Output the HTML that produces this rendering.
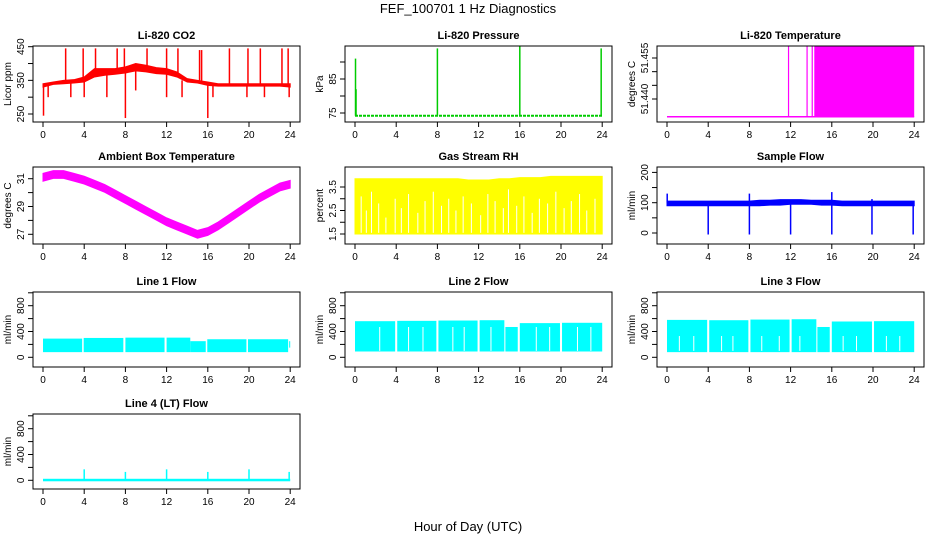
<!DOCTYPE html>
<html><head><meta charset="utf-8"><style>
body{margin:0;background:#fff;}
svg{display:block;font-family:"Liberation Sans",sans-serif;}
</style></head><body>
<svg id="c" width="936" height="540">
<text x="468" y="13" text-anchor="middle" font-size="13">FEF_100701  1 Hz Diagnostics</text>
<text x="468" y="531" text-anchor="middle" font-size="13">Hour of Day (UTC)</text>
</svg>
<script>
const hours=[0,1,2,3,4,5,6,7,8,9,10,11,12,13,14,15,16,17,18,19,20,21,22,23,24];
const co2Lo=[330,338,340,342,345,360,365,368,372,378,375,370,368,360,345,342,335,333,333,333,333,333,333,333,330];
const co2Hi=[340,345,350,352,360,385,385,385,390,400,395,388,385,375,355,350,345,340,340,340,340,340,340,340,340];
const co2SpikeH=[2.2,3.9,5.1,7.2,7.9,10.1,12.0,13.1,15.2,15.4,18.1,19.9,21.1,23.2,23.8,0.05,0.5,2.7,4.0,6.2,8.0,9.0,12.0,13.5,16.0,16.5,19.8,21.5,23.9];
const co2SpikeV=[445,445,445,445,445,445,445,445,440,440,445,445,445,445,445,245,300,300,300,300,238,320,300,300,238,300,300,300,300];
const presBase=[74.2,74.2,74.2,74.2,74.2,74.2,74.2,74.2,74.2,74.2,74.2,74.2,74.2,74.2,74.2,74.2,74.2,74.2,74.2,74.2,74.2,74.2,74.2,74.2,74.2];
const presSpikeH=[0.05,0.1,8.0,16.0,23.9];
const presSpikeV=[91,82,94,95,94];
const tempFlat=51.4335;
const tempHigh=51.4594;
const tempLineH=[11.8,13.6,14.1];
const tempBandStart=14.3;
const ambMid=[31.1,31.3,31.3,31.1,30.9,30.6,30.3,29.9,29.5,29.1,28.7,28.3,27.9,27.6,27.3,27.0,27.2,27.6,28.1,28.6,29.1,29.6,30.0,30.4,30.6];
const ambHalf=0.28;
const rhLo=[1.5,1.5,1.5,1.5,1.5,1.5,1.5,1.5,1.5,1.5,1.5,1.5,1.5,1.5,1.5,1.5,1.5,1.5,1.5,1.5,1.5,1.5,1.5,1.5,1.5];
const rhHi=[3.85,3.85,3.85,3.85,3.85,3.85,3.85,3.85,3.85,3.85,3.85,3.8,3.8,3.8,3.85,3.85,3.9,3.9,3.9,3.95,3.95,3.95,3.95,3.95,3.95];
const rhGapH=[0.6,1.1,1.6,2.3,3.0,3.9,4.5,5.2,6.1,6.8,7.6,8.4,9.1,9.8,10.5,11.3,12.2,12.9,13.6,14.4,14.9,15.7,16.4,17.2,17.9,18.7,19.5,20.3,21.0,21.8,22.5,23.3];
const rhGapV=[3.1,2.5,3.3,2.8,2.2,3.0,2.6,3.2,2.4,2.9,3.3,2.7,3.0,2.5,3.1,2.8,2.3,3.2,2.9,2.6,3.4,2.7,3.1,2.4,3.0,2.8,3.3,2.6,2.9,3.2,2.5,3.0];
const sfLo=[90,90,90,90,90,90,90,90,90,90,92,92,95,95,95,92,92,90,90,90,90,90,90,90,90];
const sfHi=[105,105,105,105,105,105,105,105,105,108,108,110,110,110,108,108,108,105,105,105,105,105,105,105,105];
const sfSpikeH=[0.02,8.0,16.0,19.9,4.0,8.0,12.0,16.0,19.9,23.9];
const sfSpikeV=[130,130,135,112,-5,-5,-5,-5,-5,-5];
const l1Start=[0,3.95,8.0,12.0,14.3,15.95,19.9,23.9];
const l1End=[3.8,7.8,11.8,14.3,15.8,19.75,23.8,24];
const l1Lo=[80,80,80,80,80,80,80,150];
const l1Hi=[290,300,305,305,250,280,280,250];
const l2Start=[0,4.1,8.1,12.1,14.6,16.0,20.1];
const l2End=[3.9,7.9,11.9,14.5,15.8,19.9,24];
const l2Lo=[90,90,90,90,90,90,90];
const l2Hi=[560,565,570,575,470,530,535];
const l2GapH=[2.4,5.2,6.6,9.5,10.6,13.2,17.6,18.9,21.6,22.9];
const l3Start=[0,4.1,8.1,12.1,14.6,16.0,20.1];
const l3End=[3.9,7.9,11.9,14.5,15.8,19.9,24];
const l3Lo=[80,80,80,80,80,80,80];
const l3Hi=[580,575,585,590,470,555,560];
const l3GapH=[1.2,2.6,5.3,6.4,9.2,10.9,12.9,17.1,18.4,21.3,22.6];
const l4Base=8;
const l4SpikeH=[4.0,8.0,12.0,16.0,20.0,23.9];
const l4SpikeV=[170,130,170,130,170,130];

const svg=document.getElementById('c');
const NS='http://www.w3.org/2000/svg';
function mk(tag,attrs,parent){const e=document.createElementNS(NS,tag);for(const k in attrs)e.setAttribute(k,attrs[k]);(parent||svg).appendChild(e);return e;}
const colT0=[43,355,667], rowBox=[[46,122],[167,244],[292,367],[414,489]];
const PXH=10.3;
function panel(name,col,row,title,ylab,v1,y1,v2,y2,ticks,labels,draw){
  const g=mk('g',{});
  
  
  const t0=colT0[col],L=t0-10,R=t0+257,T=rowBox[row][0],B=rowBox[row][1];
  const X=h=>t0+h*PXH, Y=v=>y1+(v-v1)*(y2-y1)/(v2-v1);
  const clip='clip'+name;
  const cp=mk('clipPath',{id:clip},g);mk('rect',{x:L,y:T,width:R-L,height:B-T},cp);
  const dg=mk('g',{'clip-path':'url(#'+clip+')'},g);
  
  
  draw(dg,X,Y);
  const box=mk('rect',{x:L,y:T,width:R-L,height:B-T,fill:'none',stroke:'#000','stroke-width':1},g);
  
  
  const tt=mk('text',{x:(L+R)/2,y:T-7,'text-anchor':'middle','font-size':11,'font-weight':'bold'},g);tt.textContent=title;
  
  
  for(let h=0;h<=24;h+=4){const x=X(h);mk('line',{x1:x,y1:B,x2:x,y2:B+5,stroke:'#000'},g);
    const lt=mk('text',{x:x,y:B+16,'text-anchor':'middle','font-size':10},g);lt.textContent=h;
    
    }
  mk('line',{x1:X(0),y1:B,x2:X(24),y2:B,stroke:'#000'},g);
  for(const v of ticks){const y=Y(v);mk('line',{x1:L,y1:y,x2:L-5,y2:y,stroke:'#000'},g);}
  for(const v of labels){const y=Y(v[0]);const lt=mk('text',{x:L-9,y:y,'text-anchor':'middle','font-size':10,transform:`rotate(-90 ${L-9} ${y})`},g);lt.textContent=v[1];
    
    }
  const ym=(T+B)/2;
  const yl=mk('text',{x:L-22,y:ym,'text-anchor':'middle','font-size':10,transform:`rotate(-90 ${L-22} ${ym})`},g);yl.textContent=ylab;
  
  
}
function band(g,X,Y,lo,hi,col){let p=hours.map((h,i)=>X(h)+','+Y(hi[i]));p=p.concat(hours.map((h,i)=>X(h)+','+Y(lo[i])).reverse());
  const e=mk('polygon',{points:p.join(' '),fill:col,stroke:col,'stroke-width':1},g);
  
  }
function spikes(g,X,Y,hs,vs,base,col,w){hs.forEach((h,i)=>{const b=Array.isArray(base)?Y(base[Math.round(h)]):Y(base);
  const e=mk('line',{x1:X(h),x2:X(h),y1:b,y2:Y(vs[i]),stroke:col,'stroke-width':w||1.5},g);
  
  });}
function segs(g,X,Y,s,e,lo,hi,col){s.forEach((a,i)=>{const r=mk('rect',{x:X(a),y:Y(hi[i]),width:Math.max(1,X(e[i])-X(a)),height:Y(lo[i])-Y(hi[i]),fill:col},g);
  
  });}
function gaps(g,X,Y,hs,topV,botV){hs.forEach((h,i)=>{const t=Array.isArray(topV)?topV[i]:topV;const b=Array.isArray(botV)?botV[i]:botV;
  const e=mk('line',{x1:X(h),x2:X(h),y1:Y(t),y2:Y(b),stroke:'#fff','stroke-width':1},g);
  
  });}

panel('co2',0,0,'Li-820 CO2','Licor ppm',450,46.7,250,114,[250,300,350,400,450],[[250,'250'],[350,'350'],[450,'450']],(g,X,Y)=>{
  band(g,X,Y,co2Lo,co2Hi,'#ff0000');
  co2SpikeH.forEach((h,i)=>{const k=Math.min(24,Math.round(h));const e=mk('line',{x1:X(h),x2:X(h),y1:Y((co2Lo[k]+co2Hi[k])/2),y2:Y(co2SpikeV[i]),stroke:'#ff0000','stroke-width':1.5},g);
    
    });
});
panel('pressure',1,0,'Li-820 Pressure','kPa',75,113,85,79,[75,80,85,90],[[75,'75'],[85,'85']],(g,X,Y)=>{
  const pl=mk('polyline',{points:hours.map((h,i)=>X(h)+','+Y(presBase[i])).join(' '),fill:'none',stroke:'#00cc00','stroke-width':2,'stroke-dasharray':'3 1'},g);
  
  
  spikes(g,X,Y,presSpikeH,presSpikeV,presBase,'#00cc00',1.5);
});
panel('li820-temp',2,0,'Li-820 Temperature','degrees C',51.440,99,51.455,58,[51.440,51.445,51.450,51.455],[[51.440,'51.440'],[51.455,'51.455']],(g,X,Y)=>{
  const fl=mk('line',{x1:X(0),x2:X(24),y1:Y(tempFlat),y2:Y(tempFlat),stroke:'#ff00ff','stroke-width':1.5},g);
  
  
  spikes(g,X,Y,tempLineH,tempLineH.map(()=>tempHigh),tempFlat,'#ff00ff',1.2);
  const r=mk('rect',{x:X(tempBandStart),y:Y(tempHigh),width:X(24)-X(tempBandStart),height:Y(tempFlat)-Y(tempHigh),fill:'#ff00ff'},g);
  
  
});
panel('ambient',0,1,'Ambient Box Temperature','degrees C',31,178.7,27,234.3,[27,28,29,30,31],[[27,'27'],[29,'29'],[31,'31']],(g,X,Y)=>{
  band(g,X,Y,ambMid.map(v=>v-ambHalf),ambMid.map(v=>v+ambHalf),'#ff00ff');
});
panel('rh',1,1,'Gas Stream RH','percent',1.5,234,3.5,187,[1.5,2,2.5,3,3.5],[[1.5,'1.5'],[2.5,'2.5'],[3.5,'3.5']],(g,X,Y)=>{
  band(g,X,Y,rhLo,rhHi,'#ffff00');
  gaps(g,X,Y,rhGapH,rhGapV,1.55);
});
panel('sample-flow',2,1,'Sample Flow','ml/min',0,233,100,202.7,[0,50,100,150,200],[[0,'0'],[100,'100'],[200,'200']],(g,X,Y)=>{
  band(g,X,Y,sfLo,sfHi,'#0000ff');
  spikes(g,X,Y,sfSpikeH,sfSpikeV,100,'#0000ff',1.5);
});
const fT=[0,200,400,600,800,1000],fL=[[0,'0'],[400,'400'],[800,'800']];
panel('line1',0,2,'Line 1 Flow','ml/min',0,357.3,800,305.7,fT,fL,(g,X,Y)=>segs(g,X,Y,l1Start,l1End,l1Lo,l1Hi,'#00ffff'));
panel('line2',1,2,'Line 2 Flow','ml/min',0,357.3,800,305.7,fT,fL,(g,X,Y)=>{segs(g,X,Y,l2Start,l2End,l2Lo,l2Hi,'#00ffff');gaps(g,X,Y,l2GapH,100,470);});
panel('line3',2,2,'Line 3 Flow','ml/min',0,357.3,800,305.7,fT,fL,(g,X,Y)=>{segs(g,X,Y,l3Start,l3End,l3Lo,l3Hi,'#00ffff');gaps(g,X,Y,l3GapH,100,330);});
panel('line4',0,3,'Line 4 (LT) Flow','ml/min',0,480.3,800,428.7,fT,fL,(g,X,Y)=>{
  const r=mk('rect',{x:X(0),y:Y(l4Base)-1,width:X(24)-X(0),height:2.5,fill:'#00ffff'},g);
  
  
  spikes(g,X,Y,l4SpikeH,l4SpikeV,l4Base,'#00ffff',1.5);
});
</script>
</body></html>
